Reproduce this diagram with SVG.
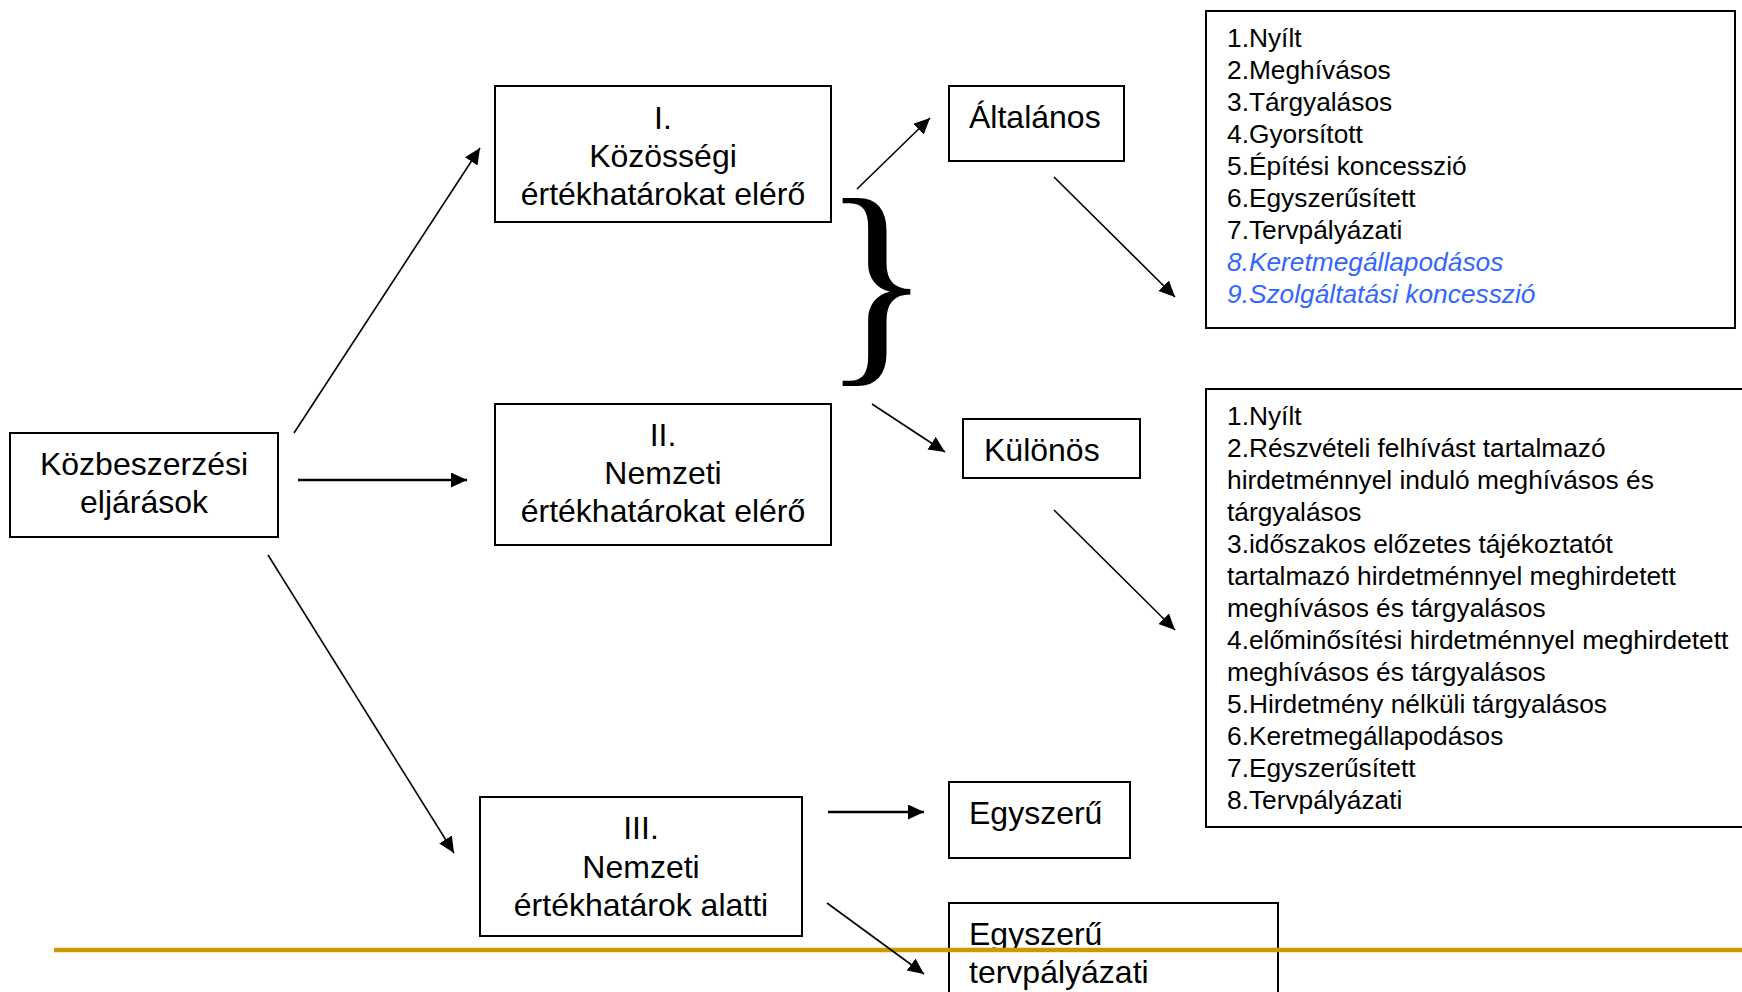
<svg xmlns="http://www.w3.org/2000/svg" width="1742" height="992" viewBox="0 0 1742 992">
<defs>
<marker id="ah" markerUnits="userSpaceOnUse" markerWidth="18" markerHeight="16" refX="16" refY="7.5" orient="auto">
<path d="M0,0 L16,7.5 L0,15 Z" fill="#000"/>
</marker>
<style>
.box{fill:#fff;stroke:#000;stroke-width:2}
.t{font-family:"Liberation Sans",Arial,sans-serif;font-size:32px;fill:#000}
.c{text-anchor:middle}
.l{font-family:"Liberation Sans",Arial,sans-serif;font-size:26.3px;fill:#000}
.blue{fill:#3366FF;font-style:italic}
.ar{stroke:#000;stroke-width:1.6;fill:none;marker-end:url(#ah)}
.ar2{stroke-width:2.4}
</style>
</defs>
<rect width="1742" height="992" fill="#fff"/>

<g id="n-kozbeszerzesi">
<rect class="box" x="10" y="433" width="268" height="104"/>
<text class="t c" x="144" y="475">Közbeszerzési</text>
<text class="t c" x="144" y="513">eljárások</text>
</g>

<g id="n-kozossegi">
<rect class="box" x="495" y="86" width="336" height="136"/>
<text class="t c" x="663" y="129">I.</text>
<text class="t c" x="663" y="167">Közösségi</text>
<text class="t c" x="663" y="205">értékhatárokat elérő</text>
</g>

<g id="n-nemzeti">
<rect class="box" x="495" y="404" width="336" height="141"/>
<text class="t c" x="663" y="446">II.</text>
<text class="t c" x="663" y="484">Nemzeti</text>
<text class="t c" x="663" y="522">értékhatárokat elérő</text>
</g>

<g id="n-alatti">
<rect class="box" x="480" y="797" width="322" height="139"/>
<text class="t c" x="641" y="839">III.</text>
<text class="t c" x="641" y="878">Nemzeti</text>
<text class="t c" x="641" y="916">értékhatárok alatti</text>
</g>

<g id="n-brace">
<text x="822" y="356" font-family="'Liberation Serif','Times New Roman',serif" font-size="227">}</text>
</g>

<g id="n-altalanos">
<rect class="box" x="949" y="86" width="175" height="75"/>
<text class="t" x="969" y="128">Általános</text>
</g>

<g id="n-kulonos">
<rect class="box" x="963" y="419" width="177" height="59"/>
<text class="t" x="984" y="461">Különös</text>
</g>

<g id="n-egyszeru">
<rect class="box" x="949" y="782" width="181" height="76"/>
<text class="t" x="969" y="824">Egyszerű</text>
</g>

<g id="n-egyszeru-terv">
<rect class="box" x="949" y="903" width="329" height="100"/>
<text class="t" x="969" y="945">Egyszerű</text>
<text class="t" x="969" y="983">tervpályázati</text>
</g>

<g id="n-lista1">
<rect class="box" x="1206" y="11" width="529" height="317"/>
<text class="l" x="1227" y="47">1.Nyílt</text>
<text class="l" x="1227" y="79">2.Meghívásos</text>
<text class="l" x="1227" y="111">3.Tárgyalásos</text>
<text class="l" x="1227" y="143">4.Gyorsított</text>
<text class="l" x="1227" y="175">5.Építési koncesszió</text>
<text class="l" x="1227" y="207">6.Egyszerűsített</text>
<text class="l" x="1227" y="239">7.Tervpályázati</text>
<text class="l blue" x="1227" y="271">8.Keretmegállapodásos</text>
<text class="l blue" x="1227" y="303">9.Szolgáltatási koncesszió</text>
</g>

<g id="n-lista2">
<rect class="box" x="1206" y="389" width="560" height="438"/>
<text class="l" x="1227" y="425">1.Nyílt</text>
<text class="l" x="1227" y="457">2.Részvételi felhívást tartalmazó</text>
<text class="l" x="1227" y="489">hirdetménnyel induló meghívásos és</text>
<text class="l" x="1227" y="521">tárgyalásos</text>
<text class="l" x="1227" y="553">3.időszakos előzetes tájékoztatót</text>
<text class="l" x="1227" y="585">tartalmazó hirdetménnyel meghirdetett</text>
<text class="l" x="1227" y="617">meghívásos és tárgyalásos</text>
<text class="l" x="1227" y="649">4.előminősítési hirdetménnyel meghirdetett</text>
<text class="l" x="1227" y="681">meghívásos és tárgyalásos</text>
<text class="l" x="1227" y="713">5.Hirdetmény nélküli tárgyalásos</text>
<text class="l" x="1227" y="745">6.Keretmegállapodásos</text>
<text class="l" x="1227" y="777">7.Egyszerűsített</text>
<text class="l" x="1227" y="809">8.Tervpályázati</text>
</g>

<g id="footer-line">
<line x1="54" y1="950" x2="1742" y2="950" stroke="#CC9900" stroke-width="4.5"/>
</g>

<g id="connectors">
<line class="ar" x1="294" y1="433" x2="480" y2="148"/>
<line class="ar ar2" x1="298" y1="480" x2="467" y2="480"/>
<line class="ar" x1="268" y1="555" x2="454" y2="853"/>
<line class="ar" x1="857" y1="189" x2="930" y2="118"/>
<line class="ar" x1="872" y1="404" x2="945" y2="452"/>
<line class="ar" x1="1054" y1="177" x2="1175" y2="297"/>
<line class="ar" x1="1054" y1="510" x2="1175" y2="630"/>
<line class="ar ar2" x1="828" y1="812" x2="924" y2="812"/>
<line class="ar" x1="827" y1="903" x2="924" y2="974"/>
</g>
</svg>
